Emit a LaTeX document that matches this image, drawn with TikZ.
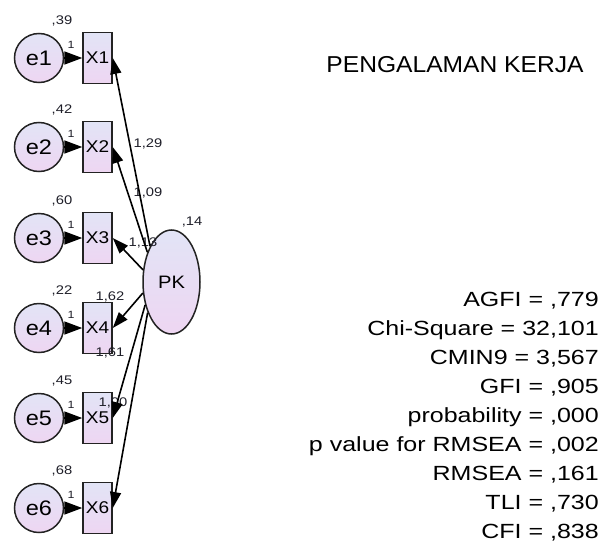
\documentclass[tikz,border=0pt]{standalone}
\usepackage{fontspec}
\setmainfont{Liberation Sans}
\usepackage{graphicx}
\usetikzlibrary{arrows.meta,shapes.geometric}
\newcommand{\sx}[2][1.18]{\scalebox{#1}[1]{#2}}
\definecolor{lavtop}{RGB}{226,228,246}
\definecolor{lavbot}{RGB}{238,214,242}
\definecolor{edgec}{RGB}{35,35,35}
\definecolor{labc}{RGB}{30,30,40}
\begin{document}
\begin{tikzpicture}[x=1pt,y=-1pt,
 err/.style={circle, draw=edgec, line width=1.5pt, top color=lavtop, bottom color=lavbot, minimum size=49pt, inner sep=0pt, font=\fontsize{21}{21}\selectfont},
 obs/.style={rectangle, draw=edgec, line width=1.5pt, top color=lavtop, bottom color=lavbot, minimum width=29pt, minimum height=51pt, inner sep=0pt, font=\fontsize{17}{17}\selectfont},
 lat/.style={ellipse, draw=edgec, line width=1.5pt, top color=lavtop, bottom color=lavbot, minimum width=57pt, minimum height=104pt, inner sep=0pt, font=\fontsize{18}{18}\selectfont},
 lab/.style={font=\fontsize{12.5}{12.5}\selectfont, inner sep=0pt, text=labc},
 onelab/.style={font=\fontsize{10.5}{10.5}\selectfont, inner sep=0pt, text=labc},
 earrow/.style={-{Triangle[length=18pt,width=13pt]}, line width=1.6pt, black},
 larrow/.style={-{Triangle[length=16pt,width=11pt]}, line width=1.6pt, black},
 stat/.style={font=\fontsize{20.5}{20.5}\selectfont, anchor=east, inner sep=0pt, text=black}
]
\useasboundingbox (0,0) rectangle (607,543);
% rows
\foreach \i/\y/\v in {1/58/{,39},2/147/{,42},3/238/{,60},4/328/{,22},5/418/{,45},6/508/{,68}}{
  \node[err] (e\i) at (39,\y) {\sx[1.12]{e\i}};
  \node[obs] (X\i) at (97.5,\y) {\sx[1.12]{X\i}};
  \node[lab] (v\i) at (62,\y-37) {\sx{\v}};
  \node[onelab] (o\i) at (71,\y-13) {\sx{1}};
  \draw[earrow] (e\i) -- (X\i);
}
\node[lat] (PK) at (171.5,282) {\sx[1.12]{PK}};
\node[lab] (vPK) at (192,222) {\sx{,14}};
% loading labels
\node[lab] (l1) at (148,144) {\sx{1,29}};
\node[lab] (l2) at (148,193) {\sx{1,09}};
\node[lab] (l3) at (143,243) {\sx{1,13}};
\node[lab] (l4) at (110,297) {\sx{1,62}};
\node[lab] (l5) at (110,353) {\sx{1,61}};
\node[lab] (l6) at (113,403) {\sx{1,00}};
% loadings
\draw[larrow] (PK.121) -- (X1.east);
\draw[larrow] (PK.129) -- (X2.east);
\draw[larrow] (PK.157) -- (X3.east);
\draw[larrow] (PK.201) -- (X4.east);
\draw[larrow] (PK.221) -- (X5.east);
\draw[larrow] (PK.232) -- (X6.east);
% texts
\node[font=\fontsize{23}{23}\selectfont, inner sep=0pt, text=black] (title) at (455,65) {\sx[1.07]{PENGALAMAN KERJA}};
\node[stat] (s1) at (599,301) {\sx[1.22]{AGFI = ,779}};
\node[stat] (s2) at (599,330) {\sx[1.22]{Chi-Square = 32,101}};
\node[stat] (s3) at (599,359) {\sx[1.22]{CMIN9 = 3,567}};
\node[stat] (s4) at (599,388) {\sx[1.22]{GFI = ,905}};
\node[stat] (s5) at (599,417) {\sx[1.22]{probability = ,000}};
\node[stat] (s6) at (599,446) {\sx[1.22]{p value for RMSEA = ,002}};
\node[stat] (s7) at (599,475) {\sx[1.22]{RMSEA = ,161}};
\node[stat] (s8) at (599,504) {\sx[1.22]{TLI = ,730}};
\node[stat] (s9) at (599,533) {\sx[1.22]{CFI = ,838}};
\end{tikzpicture}
\end{document}
